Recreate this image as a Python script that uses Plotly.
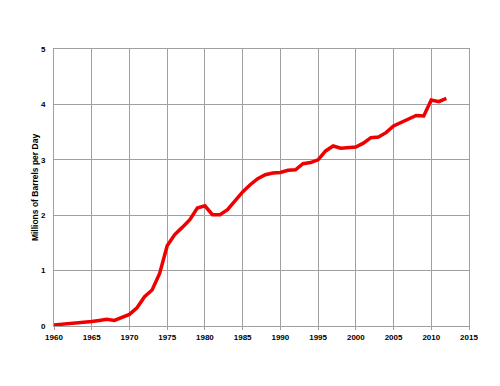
import plotly.graph_objects as go

years = list(range(1960, 2013))
values = [0.02, 0.03, 0.04, 0.05, 0.06, 0.08, 0.10, 0.12, 0.10, 0.15,
          0.21, 0.33, 0.53, 0.65, 0.95, 1.45, 1.65, 1.78, 1.92, 2.13,
          2.17, 2.01, 2.01, 2.10, 2.26, 2.42, 2.55, 2.66, 2.73, 2.76,
          2.77, 2.81, 2.82, 2.93, 2.95, 3.00, 3.16, 3.25, 3.21, 3.22,
          3.23, 3.30, 3.40, 3.41, 3.49, 3.61, 3.67, 3.73, 3.80, 3.79,
          4.08, 4.05, 4.11]
x_ticks = list(range(1960, 2016, 5))
y_ticks = [0, 1, 2, 3, 4, 5]
y_title = "Millions of Barrels per Day"

fig = go.Figure(go.Scatter(x=years, y=values, mode="lines",
                           line=dict(color="#ee0000", width=3.5),
                           showlegend=False))
font = dict(family="Liberation Sans, Arial, sans-serif", size=8, color="#000000")
fig.update_layout(
    width=500, height=386,
    margin=dict(l=46, r=39, t=41, b=68),
    paper_bgcolor="white", plot_bgcolor="white",
    font=font,
)
fig.update_xaxes(range=[1960, 2015], tickvals=x_ticks,
                 ticktext=[f"<b>{t}</b>" for t in x_ticks],
                 showgrid=True, gridcolor="#a0a0a0", gridwidth=1,
                 showline=True, linecolor="#a0a0a0", mirror=True,
                 ticks="outside", ticklen=3, tickcolor="#a0a0a0",
                 zeroline=False, fixedrange=True, automargin=False)
fig.update_yaxes(range=[0, 5], tickvals=y_ticks,
                 ticktext=[f"<b>{t}</b>" for t in y_ticks],
                 showgrid=True, gridcolor="#a0a0a0", gridwidth=1,
                 showline=True, linecolor="#a0a0a0", mirror=True,
                 ticks="", ticklen=0, ticklabelstandoff=6,
                 zeroline=False, fixedrange=True, automargin=False,
                 title=dict(text=f"<b>{y_title}</b>", standoff=0,
                            font=dict(size=8.5)))
fig.write_html("out.html")
